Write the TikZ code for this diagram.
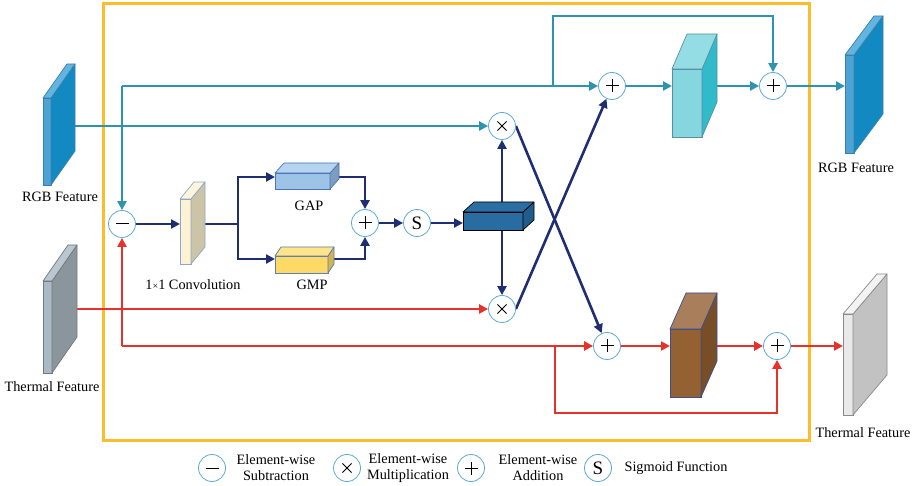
\documentclass[tikz,border=0pt]{standalone}
\usepackage{fontspec}
\setmainfont{Liberation Serif}
\usetikzlibrary{arrows.meta,backgrounds}

% line colours
\definecolor{tealc}{HTML}{2C94AF}
\definecolor{navyc}{HTML}{1F2E72}
\definecolor{redc}{HTML}{E5322B}
\definecolor{framec}{HTML}{FBBD2C}
\definecolor{opline}{HTML}{5AA8DC}
% block palettes: -f front, -s side, -t top, -e edge
\definecolor{rgb-f}{HTML}{4DA3D3}\definecolor{rgb-s}{HTML}{1389C2}\definecolor{rgb-t}{HTML}{62B5E0}\definecolor{rgb-e}{HTML}{3C7FA8}
\definecolor{thl-f}{HTML}{AAB9C4}\definecolor{thl-s}{HTML}{8B969C}\definecolor{thl-t}{HTML}{BAC7D0}\definecolor{thl-e}{HTML}{6F797F}
\definecolor{thr-f}{HTML}{E9E9E9}\definecolor{thr-s}{HTML}{C2C2C2}\definecolor{thr-t}{HTML}{F3F3F3}\definecolor{thr-e}{HTML}{8A8A8A}
\definecolor{conv-f}{HTML}{FDF2D3}\definecolor{conv-s}{HTML}{CBC4A7}\definecolor{conv-t}{HTML}{FEF5DC}\definecolor{conv-e}{HTML}{8FA6C8}
\definecolor{gap-f}{HTML}{9DC3E6}\definecolor{gap-s}{HTML}{7D9DC0}\definecolor{gap-t}{HTML}{B6D3F0}\definecolor{gap-e}{HTML}{4A74B4}
\definecolor{gmp-f}{HTML}{FFD966}\definecolor{gmp-s}{HTML}{D4B450}\definecolor{gmp-t}{HTML}{FFE48A}\definecolor{gmp-e}{HTML}{5B7DB8}
\definecolor{dk-f}{HTML}{296CA1}\definecolor{dk-s}{HTML}{205C8C}\definecolor{dk-t}{HTML}{2B6EA3}\definecolor{dk-e}{HTML}{000000}
\definecolor{cy-f}{HTML}{85D6DF}\definecolor{cy-s}{HTML}{31BBCA}\definecolor{cy-t}{HTML}{95DDE4}\definecolor{cy-e}{HTML}{5A8FA0}
\definecolor{br-f}{HTML}{946133}\definecolor{br-s}{HTML}{784E29}\definecolor{br-t}{HTML}{A87F5A}\definecolor{br-e}{HTML}{3C4E8C}

% \cube{name}{(x,y) of front top-left}{width}{height}{dx}{dy}{palette}
\newcommand{\cube}[7]{%
  \node[draw=#7-e, fill=#7-f, line width=0.7pt, inner sep=0pt, outer sep=0pt,
        minimum width=#3, minimum height=#4, anchor=north west] (#1) at #2 {};
  \filldraw[fill=#7-s, draw=#7-e, line width=0.7pt, line join=round]
    (#1.north east) -- ++(#5,#6) -- ++(0,#4) -- (#1.south east) -- cycle;
  \filldraw[fill=#7-t, draw=#7-e, line width=0.7pt, line join=round]
    (#1.north west) -- ++(#5,#6) -- ++(#3,0) -- (#1.north east) -- cycle;
  \coordinate (#1r) at ([xshift=#5pt]#1.east);
}

\begin{document}
\begin{tikzpicture}[x=1pt,y=-1pt,
  font=\fontsize{14.3}{16}\selectfont,
  op/.style={circle, draw=opline, line width=0.8pt, fill=white, minimum size=27pt, inner sep=0pt},
  sym/.style={draw=black, line width=1pt},
  opadd/.style={op, path picture={\draw[sym]
      ([xshift=-6.5pt]path picture bounding box.center) -- ([xshift=6.5pt]path picture bounding box.center)
      ([yshift=-6.5pt]path picture bounding box.center) -- ([yshift=6.5pt]path picture bounding box.center);}},
  opsub/.style={op, path picture={\draw[sym]
      ([xshift=-6.5pt]path picture bounding box.center) -- ([xshift=6.5pt]path picture bounding box.center);}},
  opmul/.style={op, path picture={\draw[sym]
      ([shift={(-4.6pt,-4.6pt)}]path picture bounding box.center) -- ([shift={(4.6pt,4.6pt)}]path picture bounding box.center)
      ([shift={(-4.6pt,4.6pt)}]path picture bounding box.center) -- ([shift={(4.6pt,-4.6pt)}]path picture bounding box.center);}},
  opsig/.style={op, font=\fontsize{19}{19}\selectfont},
  tip/.style={-{Triangle[length=9pt,width=9pt]}},
  lineT/.style={draw=tealc, line width=2.6pt},
  lineN/.style={draw=navyc, line width=2.6pt},
  lineR/.style={draw=redc, line width=2.6pt},
  arrT/.style={lineT, tip},
  arrN/.style={lineN, tip},
  arrR/.style={lineR, tip},
  lbl/.style={inner sep=0pt, align=center},
]
\useasboundingbox (0,0) rectangle (924,486);

% feature blocks
\cube{rgbL}{(43,98)}{8}{87}{24}{-34}{rgb}
\cube{thL}{(43,281)}{9}{92}{25}{-36}{thl}
\cube{conv}{(180,199)}{11}{65}{14}{-17}{conv}
\cube{gap}{(275,173)}{55}{16}{9}{-10}{gap}
\cube{gmp}{(275,256)}{53}{17}{6}{-9}{gmp}
\cube{dk}{(463,212)}{60}{18}{11}{-10}{dk}
\cube{cyan}{(672,69)}{30}{68}{15}{-35}{cy}
\cube{brown}{(670,329)}{31}{68}{16}{-36}{br}
\cube{rgbR}{(845,55)}{9}{98}{29}{-39}{rgb}
\cube{thR}{(843,314)}{10}{101}{34}{-40}{thr}

% labels
\node[lbl] (lrgbL) at (60,197) {RGB Feature};
\node[lbl] (lthL) at (52,387) {Thermal Feature};
\node[lbl] (lrgbR) at (856,168) {RGB Feature};
\node[lbl] (lthR) at (863,433) {Thermal Feature};
\node[lbl] (lconv) at (193,285) {1{\fontsize{10}{10}\selectfont ×}1 Convolution};
\node[lbl] (lgap) at (309,206) {GAP};
\node[lbl] (lgmp) at (312,285) {GMP};

% operators
\node[opsub] (sub) at (122,224) {};
\node[opadd] (addC) at (365,223) {};
\node[opsig] (sig) at (417,223) {S};
\node[opmul] (mulT) at (502,126) {};
\node[opmul] (mulB) at (502,309) {};
\node[opadd] (addA) at (612,86) {};
\node[opadd] (addB) at (773,86) {};
\node[opadd] (addD) at (607,346) {};
\node[opadd] (addE) at (777,346) {};

% branch points
\coordinate (tapT) at (122,86);
\coordinate (tapT2) at (553,86);
\coordinate (tapR) at (122,346);
\coordinate (tapR2) at (555,346);
\coordinate (split) at (238,224);

% legend
\node[opsub] (ksub) at (212,468) {};
\node[lbl] (tsub) at (276,468) {Element-wise\\Subtraction};
\node[opmul] (kmul) at (347,468) {};
\node[lbl] (tmul) at (408,468) {Element-wise\\Multiplication};
\node[opadd] (kadd) at (471,468) {};
\node[lbl] (tadd) at (538,468) {Element-wise\\Addition};
\node[opsig] (ksig) at (598,468) {S};
\node[lbl] (tsig) at (676,468) {Sigmoid Function};

\begin{pgfonlayer}{background}
  % module frame
  \node[draw=framec, line width=2.6pt, inner sep=0pt, minimum width=706pt, minimum height=437pt, anchor=north west] (frame) at (102,2) {};

  % RGB stream
  \draw[arrT] (mulT -| rgbLr) -- (mulT);
  \draw[arrT] (tapT) -- (sub);
  \draw[arrT] (tapT) -- (addA);
  \draw[arrT] (tapT2) -- ++(0,-70) -| (addB);
  \draw[arrT] (addA) -- (addA -| cyan.west);
  \draw[arrT] (addA -| cyanr) -- (addB);
  \draw[arrT] (addB) -- (addB -| rgbR.west);

  % attention branch
  \draw[arrN] (sub) -- (sub -| conv.west);
  \draw[lineN] (sub -| convr) -- (split);
  \draw[arrN] (split) |- ([yshift=4pt]gap.west);
  \draw[arrN] (split) |- ([yshift=5.5pt]gmp.west);
  \draw[arrN] ([yshift=4pt]gapr) -| (addC);
  \draw[arrN] ([yshift=5.5pt]gmpr) -| (addC);
  \draw[arrN] (addC) -- (sig);
  \draw[arrN] (sig) -- (sig -| dk.west);
  \draw[arrN] (dk.center -| mulT) -- (mulT);
  \draw[arrN] (dk.center -| mulB) -- (mulB);
  \draw[arrN] (mulT.east) -- (addD);
  \draw[arrN] (mulB.east) -- (addA);

  % thermal stream
  \draw[arrR] (mulB -| thLr) -- (mulB);
  \draw[arrR] (tapR) -- (sub);
  \draw[arrR] (tapR) -- (addD);
  \draw[arrR] (tapR2) -- ++(0,67) -| (addE);
  \draw[arrR] (addD) -- (addD -| brown.west);
  \draw[arrR] (addD -| brownr) -- (addE);
  \draw[arrR] (addE) -- (addE -| thR.west);
\end{pgfonlayer}
\end{tikzpicture}
\end{document}
